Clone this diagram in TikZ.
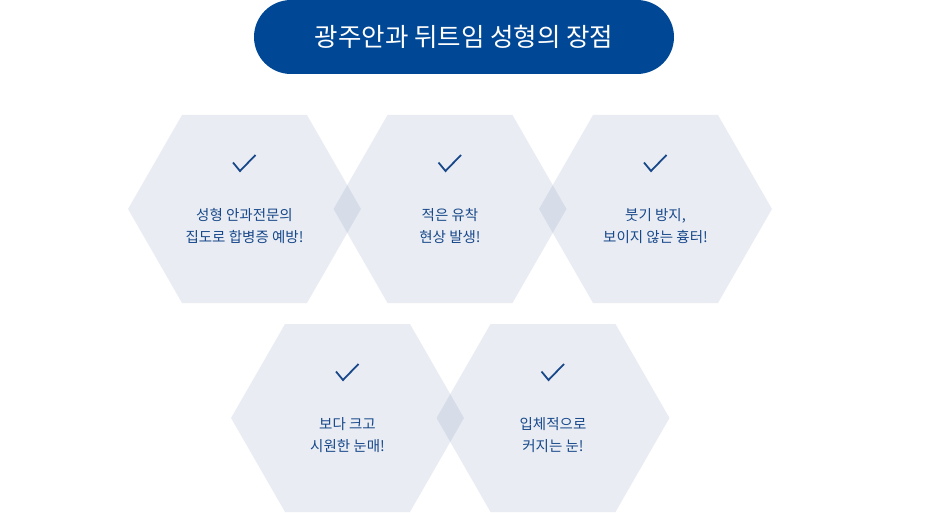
\documentclass[tikz,border=0pt]{standalone}
\usepackage{fontspec}
\setmainfont{Noto Sans CJK KR}
\usepackage{tikz}
\usetikzlibrary{positioning}
\definecolor{pillblue}{RGB}{0,72,150}
\definecolor{textblue}{RGB}{24,72,138}
\definecolor{hexgray}{RGB}{98,127,169}
\tikzset{
  titlepill/.style={fill=pillblue,text=white,rounded corners=37pt,minimum width=420pt,minimum height=74pt,font=\fontsize{25.5}{30}\selectfont},
  hexfill/.style={fill=hexgray,fill opacity=0.14},
  hextext/.style={text=textblue,align=center,font=\fontsize{14.5}{22.5}\selectfont},
  checkmark/.style={draw=textblue,line width=1.8pt}
}

\begin{document}
\begin{tikzpicture}[x=1pt,y=-1pt]
  \useasboundingbox (0,0) rectangle (928,513);
  \node[titlepill] (title) at (464,37) {광주안과 뒤트임 성형의 장점};
  % hexagons: centre x / centre y / name / text
  \foreach \cx/\cy/\nm/\txt in {244.5/209/adv1/{성형 안과전문의\\집도로 합병증 예방!},
                              450/209/adv2/{적은 유착\\현상 발생!},
                              655.5/209/adv3/{붓기 방지,\\보이지 않는 흉터!},
                              347.5/418/adv4/{보다 크고\\시원한 눈매!},
                              553/418/adv5/{입체적으로\\커지는 눈!}} {
     \fill[hexfill] (\cx-116.5,\cy) -- (\cx-62.5,\cy-94) -- (\cx+62.5,\cy-94)
        -- (\cx+116.5,\cy) -- (\cx+62.5,\cy+94) -- (\cx-62.5,\cy+94) -- cycle;
     \draw[checkmark] (\cx-11.5,\cy-46.5) -- (\cx-4.5,\cy-38) -- (\cx+11,\cy-54);
     \node[hextext] (\nm) at (\cx,\cy+17) {\txt};
  }
\end{tikzpicture}
\end{document}
